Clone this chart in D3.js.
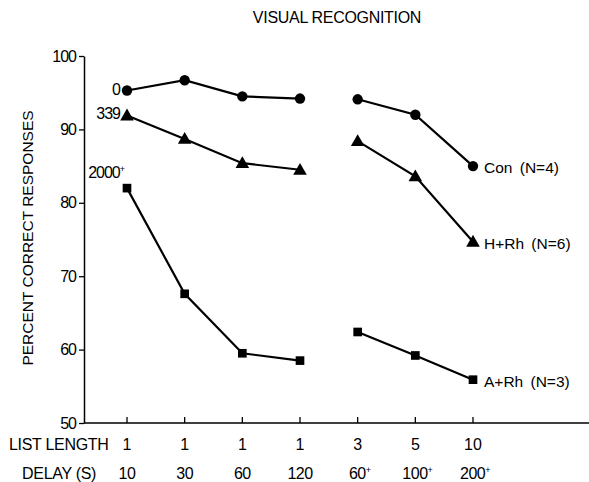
<!DOCTYPE html>
<html>
<head>
<meta charset="utf-8">
<script src="https://cdn.jsdelivr.net/npm/d3@7"></script>
<style>
  body { margin: 0; background: #fff; }
  svg text { font-family: "Liberation Sans", Arial, sans-serif; fill: #000; }
</style>
</head>
<body>
<div id="chart"></div>
<script>
// list length / delay for each test condition
var listLength = ["1", "1", "1", "1", "3", "5", "10"];
var delays = ["10", "30", "60", "120", "60+", "100+", "200+"];
var yTicks = [50, 60, 70, 80, 90, 100];

// percent correct, per group
var conValues = [95.3, 96.7, 94.5, 94.2, 94.1, 92.0, 85.0];
var hrhValues = [91.9, 88.7, 85.4, 84.5, 88.4, 83.6, 74.7];
var arhValues = [82.0, 67.6, 59.5, 58.5, 62.4, 59.2, 55.9];

var series = [
  {name: "Con (N=4)", start: "0", shape: "circle", values: conValues},
  {name: "H+Rh (N=6)", start: "339", shape: "triangle", values: hrhValues},
  {name: "A+Rh (N=3)", start: "2000+", shape: "square", values: arhValues}
];

var W = 589, H = 482;
var margin = {top: 56, right: 0, bottom: 59, left: 84};

var svg = d3.select("#chart").append("svg")
    .attr("width", W).attr("height", H);

var x = d3.scaleLinear().domain([0, 6]).range([127, 473]);
var y = d3.scaleLinear().domain([50, 100]).range([H - margin.bottom, margin.top]);

// adds a text with a "+" written as a superscript
function plusText(sel, s) {
  var base = s.replace("+", "");
  sel.append("tspan").text(base);
  if (s.indexOf("+") >= 0) {
    sel.append("tspan").attr("dy", -6).attr("font-size", "9px").text("+");
  }
}

// title
svg.append("text")
  .attr("x", 337).attr("y", 23)
  .attr("text-anchor", "middle")
  .attr("font-size", "16px")
  .attr("letter-spacing", "-0.3px")
  .text("VISUAL RECOGNITION");

// y axis
var yAxis = svg.append("g")
  .attr("transform", "translate(" + margin.left + ",0)")
  .call(d3.axisLeft(y).tickValues(yTicks).tickSize(5).tickSizeOuter(0).tickPadding(3));
yAxis.select(".domain").attr("stroke-width", 1.5);
yAxis.selectAll(".tick line").attr("stroke-width", 1.3);
yAxis.selectAll(".tick text")
  .attr("font-size", "16px")
  .attr("font-family", "Liberation Sans, Arial, sans-serif")
  .attr("letter-spacing", "-1px");

svg.append("text")
  .attr("transform", "translate(33,238) rotate(-90)")
  .attr("text-anchor", "middle")
  .attr("font-size", "15.5px")
  .text("PERCENT CORRECT RESPONSES");

// x axis line with upward ticks
var x0 = y(50);
svg.append("line")
  .attr("x1", margin.left).attr("x2", W)
  .attr("y1", x0).attr("y2", x0)
  .attr("stroke", "#000").attr("stroke-width", 1.5);

svg.selectAll(".xtick").data(listLength).enter().append("line")
  .attr("class", "xtick")
  .attr("x1", function(d, i) { return x(i); })
  .attr("x2", function(d, i) { return x(i); })
  .attr("y1", x0).attr("y2", x0 - 6)
  .attr("stroke", "#000").attr("stroke-width", 1.3);

// row labels
svg.append("text").attr("x", 9).attr("y", 450).attr("font-size", "16px").attr("letter-spacing", "-0.3px").text("LIST LENGTH");
svg.append("text").attr("x", 22).attr("y", 479).attr("font-size", "16px").attr("letter-spacing", "-0.3px").text("DELAY (S)");

svg.selectAll(".ll").data(listLength).enter().append("text")
  .attr("class", "ll")
  .attr("x", function(d, i) { return x(i); })
  .attr("y", 450)
  .attr("text-anchor", "middle")
  .attr("font-size", "16px")
  .text(function(d) { return d; });

svg.selectAll(".dl").data(delays).enter().append("text")
  .attr("class", "dl")
  .attr("x", function(d, i) { return x(i) + (d.indexOf("+") >= 0 ? 2 : 0); })
  .attr("y", 479)
  .attr("text-anchor", "middle")
  .attr("font-size", "16px")
  .attr("letter-spacing", "-0.5px")
  .each(function(d) { plusText(d3.select(this), d); });

// lines, broken between the two blocks
var line = d3.line()
  .x(function(d) { return x(d.i); })
  .y(function(d) { return y(d.v); });

series.forEach(function(s) {
  var pts = s.values.map(function(v, i) { return {i: i, v: v}; });
  [pts.slice(0, 4), pts.slice(4)].forEach(function(seg) {
    svg.append("path")
      .datum(seg)
      .attr("d", line)
      .attr("fill", "none")
      .attr("stroke", "#000")
      .attr("stroke-width", 2.2);
  });

  var sym = s.shape == "circle" ? d3.symbolCircle : (s.shape == "triangle" ? d3.symbolTriangle : d3.symbolSquare);
  var size = s.shape == "circle" ? 85 : (s.shape == "triangle" ? 80 : 75);
  svg.selectAll(".m-" + s.shape).data(pts).enter().append("path")
    .attr("class", "m-" + s.shape)
    .attr("transform", function(d) {
      var dy = s.shape == "triangle" ? 1 : 0;
      return "translate(" + x(d.i) + "," + (y(d.v) + dy) + ")";
    })
    .attr("d", d3.symbol().type(sym).size(size))
    .attr("fill", "#000");

  // series name after last point
  var last = pts[pts.length - 1];
  svg.append("text")
    .attr("x", x(last.i) + 11)
    .attr("y", y(last.v) + 7)
    .attr("font-size", "15.5px")
    .attr("word-spacing", "3px")
    .text(s.name);
});

// start labels (number of items) next to the first points
svg.append("text").attr("x", x(0) - 7).attr("y", y(conValues[0]) + 5)
  .attr("text-anchor", "end").attr("font-size", "16px").attr("letter-spacing", "-1px").text("0");
svg.append("text").attr("x", x(0) - 7).attr("y", y(hrhValues[0]) + 4)
  .attr("text-anchor", "end").attr("font-size", "16px").attr("letter-spacing", "-1px").text("339");
svg.append("text").attr("x", x(0) - 3).attr("y", y(arhValues[0]) - 10)
  .attr("text-anchor", "end").attr("font-size", "16px").attr("letter-spacing", "-1px")
  .each(function() { plusText(d3.select(this), "2000+"); });
</script>
</body>
</html>
